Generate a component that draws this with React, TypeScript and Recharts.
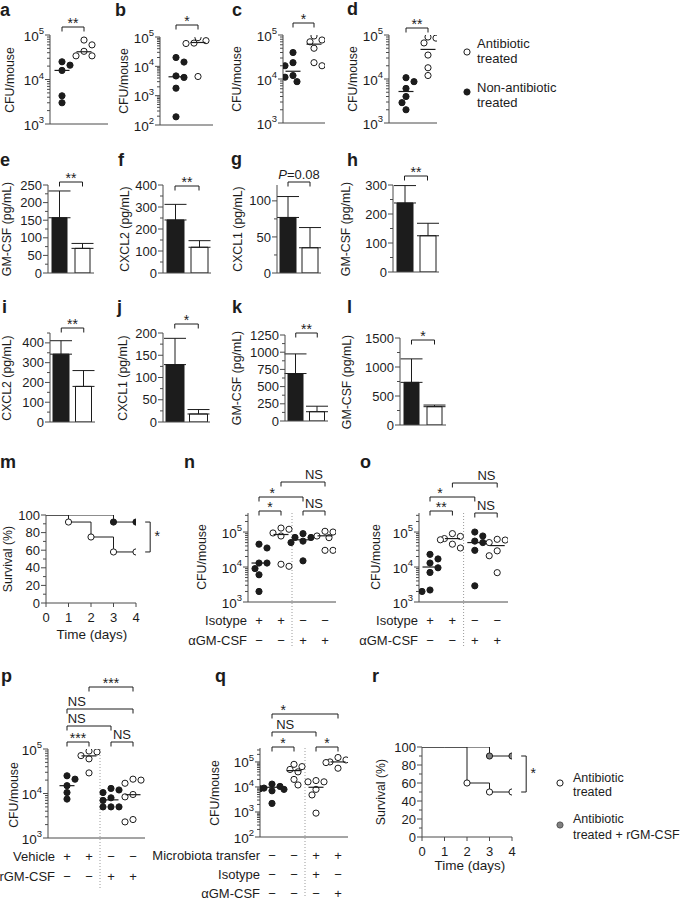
import React from 'react';
import {
  ScatterChart, Scatter, BarChart, Bar, Cell, ErrorBar, LineChart, Line,
  XAxis, YAxis, ReferenceLine,
} from 'recharts';

const FONT = '"Liberation Sans", Arial, Helvetica, sans-serif';
const INK = '#1c1c1c';
const AXIS = '#4a4a4a';

// a–d  CFU/mouse, filled = non-antibiotic treated, open = antibiotic treated
const aNonAbx = [2.5e4, 2.1e4, 1.6e4, 4.3e3, 3e3];
const aAbx = [7.7e4, 6e4, 4.3e4, 3.4e4, 3.4e4];
const aMedian = [1.6e4, 4.2e4];
const bNonAbx = [2e4, 1.4e4, 4.7e3, 4.2e3, 1.8e3, 1.9e2];
const bAbx = [9.5e4, 7.5e4, 6.2e4, 6e4, 4.5e3];
const bMedian = [4.4e3, 6.5e4];
const cNonAbx = [4e4, 2.35e4, 2e4, 1.2e4, 1.1e4, 8.7e3];
const cAbx = [9.5e4, 7.7e4, 7e4, 5e4, 2.35e4, 2e4];
const cMedian = [1.5e4, 6.2e4];
const dNonAbx = [1.07e4, 8.7e3, 6.1e3, 4e3, 2.9e3, 2e3];
const dAbx = [9e4, 8.5e4, 6.6e4, 3.5e4, 1.8e4, 1.2e4];
const dMedian = [5.2e3, 4.7e4];

// e–l  cytokines (pg/mL), mean and upper SD
const barGroups = ['Non-antibiotic treated', 'Antibiotic treated'];
const eMean = [157, 70]; const eErr = [76, 14];
const fMean = [241, 117]; const fErr = [71, 30];
const gMean = [77, 35]; const gErr = [29, 28];
const hMean = [238, 125]; const hErr = [60, 43];
const iMean = [343, 180]; const iErr = [68, 80];
const jMean = [129, 18]; const jErr = [59, 10];
const kMean = [690, 135]; const kErr = [285, 80];
const lMean = [735, 316]; const lErr = [405, 28];

// m, r  survival (%)
const days = [0, 1, 2, 3, 4];
const mNonAbx = [100, 100, 100, 92, 92];
const mAbx = [100, 92, 75, 58, 58];
const rAbxGm = [100, 100, 100, 90, 90];
const rAbx = [100, 100, 60, 50, 50];

// n–q  CFU/mouse per group
const nG1 = [4.5e4, 3.5e4, 1.3e4, 1.3e4, 9e3, 6e3, 2e3];
const nG2 = [1.3e5, 1.2e5, 9.4e4, 7.7e4, 1.2e4, 1.05e4];
const nG3 = [9e4, 7e4, 7e4, 5.5e4, 5e4, 1.5e4];
const nG4 = [1.05e5, 1e5, 7.7e4, 6.9e4, 3e4, 3e4];
const nMedian = [1.3e4, 8.5e4, 6e4, 7.8e4];
const oG1 = [2.3e4, 1.7e4, 1.3e4, 9.5e3, 7e3, 2.2e3, 2e3];
const oG2 = [9e4, 7.5e4, 6.5e4, 6e4, 4.5e4, 3.5e4];
const oG3 = [1e5, 7.7e4, 5.5e4, 5e4, 3e4, 2.9e3];
const oG4 = [6.2e4, 5.9e4, 5e4, 2.9e4, 2.1e4, 6.9e3];
const oMedian = [1e4, 6.5e4, 5e4, 4.1e4];
const pG1 = [2.5e4, 2.1e4, 1.5e4, 1.05e4, 7.5e3];
const pG2 = [9e4, 8.6e4, 7.1e4, 6e4, 2.9e4];
const pG3 = [1.3e4, 1.2e4, 1.05e4, 8e3, 7e3, 5e3, 5e3, 5e3];
const pG4 = [2.1e4, 2e4, 1.7e4, 9.5e3, 8.4e3, 2.6e3, 2.3e3];
const pMedian = [1.5e4, 7e4, 7.2e3, 9.4e3];
const qG1 = [1.3e4, 1.05e4, 9e3, 8.5e3, 8e3, 7e3, 2.2e3];
const qG2 = [8e4, 6.5e4, 5e4, 4e4, 2e4, 1.2e4];
const qG3 = [1.8e4, 1.6e4, 1.6e4, 8e3, 4.8e3, 9e2];
const qG4 = [1.5e5, 1.2e5, 1e5, 9.4e4, 5.6e4];
const qMedian = [9.7e3, 4.5e4, 9.7e3, 1e5];

// treatment rows under n–q
const isotypeRow = ['+', '+', '−', '−'];
const antiGmRow = ['−', '−', '+', '+'];
const vehicleRow = ['+', '+', '−', '−'];
const rGmRow = ['−', '−', '+', '+'];
const transferRow = ['−', '−', '+', '+'];
const qIsotypeRow = ['−', '−', '+', '−'];
const qAntiGmRow = ['−', '−', '−', '+'];

type Br = { a: number; b: number; y: number; label: string; at?: number };

const labelNode = (label: string) =>
  label.startsWith('P=') ? (<><tspan fontStyle="italic">P</tspan>{label.slice(1)}</>) : label;

const bracketShape = (label: string, at: number) => (p: any) => {
  const { x1, y1, x2 } = p;
  const stars = /^\*+$/.test(label);
  return (
    <g>
      <path d={`M${x1},${y1 + 4.5}V${y1}H${x2}V${y1 + 4.5}`} fill="none" stroke={INK} strokeWidth={1} />
      <text x={x1 + (x2 - x1) * at} y={stars ? y1 + 1 : y1 - 3} textAnchor="middle"
        fontSize={stars ? 14 : 13} fontFamily={FONT} fill={INK}>{labelNode(label)}</text>
    </g>
  );
};

const vBracket = (label: string) => (p: any) => {
  const { x1, y1, y2 } = p;
  return (
    <g>
      <path d={`M${x1 - 5},${y1}H${x1}V${y2}H${x1 - 5}`} fill="none" stroke={INK} strokeWidth={1} />
      <text x={x1 + 7} y={(y1 + y2) / 2 + 4} textAnchor="middle" fontSize={14} fontFamily={FONT} fill={INK}>{label}</text>
    </g>
  );
};

function LogTick(p: any) {
  const { x, y, payload } = p;
  const e = Math.log10(payload.value);
  const major = Math.abs(e - Math.round(e)) < 1e-6;
  return (
    <g>
      <line x1={x} x2={x - (major ? 5 : 3)} y1={y} y2={y} stroke={AXIS} strokeWidth={1} />
      {major && (
        <text x={x - 6} y={y + 5.5} textAnchor="end" fontSize={13.5} fontFamily={FONT} fill={INK}>
          10<tspan fontSize={9.5} dy={-6.5}>{Math.round(e)}</tspan>
        </text>
      )}
    </g>
  );
}

const linTick = (major: number) => (p: any) => {
  const { x, y, payload } = p;
  const v = payload.value;
  const isMajor = Math.abs(v / major - Math.round(v / major)) < 1e-6;
  return (
    <g>
      <line x1={x} x2={x - (isMajor ? 5 : 3)} y1={y} y2={y} stroke={AXIS} strokeWidth={1} />
      {isMajor && (
        <text x={x - 6} y={y + 4.6} textAnchor="end" fontSize={13} fontFamily={FONT} fill={INK}>{v}</text>
      )}
    </g>
  );
};

const dayTick = (p: any) => {
  const { x, y, payload } = p;
  return (
    <g>
      <line x1={x} x2={x} y1={y} y2={y + 4} stroke={AXIS} strokeWidth={1} />
      <text x={x} y={y + 18.5} textAnchor="middle" fontSize={13} fontFamily={FONT} fill={INK}>{payload.value}</text>
    </g>
  );
};

const rowTick = (rows: [string, string[]][], step: number) => (p: any) => {
  const { x, y, index } = p;
  return (
    <g fontFamily={FONT} fill={INK} fontSize={13}>
      {rows.map(([name, signs], r) => {
        const ty = y + 18.3 + r * step + 4.6;
        return (
          <g key={r}>
            <text x={x} y={ty} textAnchor="middle">{signs[index]}</text>
            {index === 0 && <text x={x - 12} y={ty} textAnchor="end">{name}</text>}
          </g>
        );
      })}
    </g>
  );
};

const dotShape = (fill: string) => (p: any) => (
  <circle cx={p.cx} cy={p.cy} r={3.1} fill={fill} stroke={INK} strokeWidth={1} />
);
const medBar = (p: any) => (
  <line x1={p.cx - 7.5} x2={p.cx + 7.5} y1={p.cy} y2={p.cy} stroke={INK} strokeWidth={1.2} />
);

function logTicks([lo, hi]: [number, number]) {
  const out: number[] = [];
  for (let e = Math.floor(Math.log10(lo)); e <= Math.ceil(Math.log10(hi)); e++) {
    for (let m = 1; m < 10; m++) {
      const v = m * Math.pow(10, e);
      if (v >= lo * 0.999 && v <= hi * 1.001) out.push(v);
    }
  }
  return out;
}

// small beeswarm so overlapping dots sit side by side
function spread(vals: number[], g: number, pyOf: (v: number) => number, gap: number) {
  const placed: [number, number][] = [];
  return vals.map((v, i) => {
    const py = pyOf(v);
    const s = i % 2 ? 1 : -1;
    const cands = [0, 4 * s, -4 * s, 8 * s, -8 * s, 12 * s, -12 * s];
    let dx = cands[cands.length - 1];
    for (const c of cands) {
      if (placed.every(([px, qy]) => Math.hypot(px - c, qy - py) >= 6.4)) { dx = c; break; }
    }
    placed.push([dx, py]);
    return { x: g + dx / gap, y: v };
  });
}

type LogCfg = {
  box: [number, number, number, number];
  axisX: number; top: number; bottom: number; right: number;
  domain: [number, number];
  g1: number; gap: number;
  groups: number[][]; medians: number[]; filled: boolean[];
  brackets: Br[];
  rows?: [string, string[]][];
  rowStep?: number;
  divider?: number;
};

function LogPanel({ c }: { c: LogCfg }) {
  const [bl, bt, br, bb] = c.box;
  const lo = Math.log10(c.domain[0]);
  const hi = Math.log10(c.domain[1]);
  const ph = c.bottom - c.top;
  const pyOf = (v: number) => c.bottom - ((Math.log10(v) - lo) / (hi - lo)) * ph;
  const vOf = (py: number) => Math.pow(10, lo + ((c.bottom - py) / ph) * (hi - lo));
  const xlo = 1 - (c.g1 - c.axisX) / c.gap;
  const xhi = 1 + (c.right - c.g1) / c.gap;
  const pts = c.groups.map((vals, i) => spread(vals, i + 1, pyOf, c.gap));
  const filledPts = pts.filter((_, i) => c.filled[i]).flat();
  const openPts = pts.filter((_, i) => !c.filled[i]).flat();
  const medPts = c.medians.map((m, i) => ({ x: i + 1, y: m }));
  return (
    <div style={{ position: 'absolute', left: bl, top: bt }}>
      <ScatterChart width={br - bl} height={bb - bt}
        margin={{ top: c.top - bt, right: br - c.right, bottom: 0, left: 0 }}>
        <XAxis type="number" dataKey="x" domain={[xlo, xhi]} allowDataOverflow
          ticks={c.groups.map((_, i) => i + 1)} interval={0}
          tick={c.rows ? rowTick(c.rows, c.rowStep ?? 20.5) : false} tickLine={false} tickSize={0} tickMargin={0}
          axisLine={{ stroke: AXIS }} height={bb - c.bottom} />
        <YAxis type="number" dataKey="y" scale="log" domain={c.domain} allowDataOverflow
          ticks={logTicks(c.domain)} interval={0} tick={LogTick} tickLine={false}
          tickSize={0} tickMargin={0} axisLine={{ stroke: AXIS }} width={c.axisX - bl} />
        {c.divider !== undefined && (
          <ReferenceLine segment={[{ x: 2.5, y: c.domain[1] }, { x: 2.5, y: vOf(c.divider) }]}
            ifOverflow="visible" stroke="#9a9a9a" strokeDasharray="1 2" />
        )}
        <Scatter data={filledPts} shape={dotShape(INK)} isAnimationActive={false} />
        <Scatter data={openPts} shape={dotShape('#fff')} isAnimationActive={false} />
        <Scatter data={medPts} shape={medBar} isAnimationActive={false} />
        {c.brackets.map((b, i) => (
          <ReferenceLine key={i} segment={[{ x: b.a, y: vOf(b.y) }, { x: b.b, y: vOf(b.y) }]}
            ifOverflow="visible" shape={bracketShape(b.label, b.at ?? 0.5)} />
        ))}
      </ScatterChart>
    </div>
  );
}

type BarCfg = {
  box: [number, number, number, number];
  axisX: number; top: number; bottom: number; right: number;
  max: number; major: number; minor: number; barSize: number;
  mean: number[]; err: number[]; by: number; label: string;
};

function BarPanel({ c }: { c: BarCfg }) {
  const [bl, bt, br, bb] = c.box;
  const data = barGroups.map((name, i) => ({ name, value: c.mean[i], err: [0, c.err[i]] }));
  const vOf = (py: number) => ((c.bottom - py) / (c.bottom - c.top)) * c.max;
  const ticks: number[] = [];
  for (let v = 0; v <= c.max + 1e-9; v += c.minor) ticks.push(v);
  return (
    <div style={{ position: 'absolute', left: bl, top: bt }}>
      <BarChart width={br - bl} height={bb - bt} data={data}
        margin={{ top: c.top - bt, right: br - c.right, bottom: 0, left: 0 }}>
        <XAxis dataKey="name" type="category" tick={false} tickLine={false}
          axisLine={{ stroke: AXIS }} height={bb - c.bottom} />
        <YAxis type="number" domain={[0, c.max]} allowDataOverflow ticks={ticks} interval={0}
          tick={linTick(c.major)} tickLine={false} tickSize={0} tickMargin={0}
          axisLine={{ stroke: AXIS }} width={c.axisX - bl} />
        <Bar dataKey="value" barSize={c.barSize} isAnimationActive={false} stroke={INK} strokeWidth={1}>
          {data.map((d, i) => <Cell key={d.name} fill={i === 0 ? INK : '#fff'} />)}
          <ErrorBar dataKey="err" width={11} stroke={INK} strokeWidth={1} direction="y" />
        </Bar>
        <ReferenceLine segment={[{ x: barGroups[0], y: vOf(c.by) }, { x: barGroups[1], y: vOf(c.by) }]}
          ifOverflow="visible" shape={bracketShape(c.label, 0.5)} />
      </BarChart>
    </div>
  );
}

type SurvCfg = {
  box: [number, number, number, number];
  axisX: number; top: number; bottom: number; right: number;
  series: { values: number[]; fill: string }[];
};

const kmDot = (vals: number[], fill: string) => (p: any) => {
  const i = p.index;
  const show = i > 0 && (vals[i] !== vals[i - 1] || i === vals.length - 1);
  if (!show) return <g key={i} />;
  return <circle key={i} cx={p.cx} cy={p.cy} r={3.1} fill={fill} stroke={INK} strokeWidth={1} />;
};

function SurvPanel({ c }: { c: SurvCfg }) {
  const [bl, bt, br, bb] = c.box;
  const data = days.map((d, i) => {
    const row: any = { day: d };
    c.series.forEach((s, k) => { row['s' + k] = s.values[i]; });
    return row;
  });
  const hiEnd = c.series[0].values[c.series[0].values.length - 1];
  const loEnd = c.series[1].values[c.series[1].values.length - 1];
  const yTicks = [0, 10, 20, 30, 40, 50, 60, 70, 80, 90, 100];
  return (
    <div style={{ position: 'absolute', left: bl, top: bt }}>
      <LineChart width={br - bl} height={bb - bt} data={data}
        margin={{ top: c.top - bt, right: br - c.right, bottom: 0, left: 0 }}>
        <XAxis type="number" dataKey="day" domain={[0, 4]} allowDataOverflow ticks={days} interval={0}
          tick={dayTick} tickLine={false} tickSize={0} tickMargin={0}
          axisLine={{ stroke: AXIS }} height={bb - c.bottom} />
        <YAxis type="number" domain={[0, 100]} allowDataOverflow ticks={yTicks} interval={0}
          tick={linTick(20)} tickLine={false} tickSize={0} tickMargin={0}
          axisLine={{ stroke: AXIS }} width={c.axisX - bl} />
        {c.series.map((s, k) => (
          <Line key={k} dataKey={'s' + k} type="stepAfter" stroke={INK} strokeWidth={1}
            dot={kmDot(s.values, s.fill)} activeDot={false} isAnimationActive={false} />
        ))}
        <ReferenceLine segment={[{ x: 4.63, y: hiEnd }, { x: 4.63, y: loEnd }]}
          ifOverflow="visible" shape={vBracket('*')} />
      </LineChart>
    </div>
  );
}

const logPanels: LogCfg[] = [
  { box: [0, 0, 112, 135], axisX: 50, top: 35, bottom: 124, right: 108, domain: [1e3, 1e5],
    g1: 62, gap: 22, groups: [aNonAbx, aAbx], medians: aMedian, filled: [true, false],
    brackets: [{ a: 1, b: 2, y: 27, label: '**' }] },
  { box: [112, 0, 228, 135], axisX: 160, top: 37, bottom: 125, right: 213, domain: [1e2, 1e5],
    g1: 176, gap: 22, groups: [bNonAbx, bAbx], medians: bMedian, filled: [true, false],
    brackets: [{ a: 1, b: 2, y: 25, label: '*' }] },
  { box: [228, 0, 340, 135], axisX: 283, top: 35, bottom: 123, right: 325, domain: [1e3, 1e5],
    g1: 293, gap: 21, groups: [cNonAbx, cAbx], medians: cMedian, filled: [true, false],
    brackets: [{ a: 1, b: 2, y: 23, label: '*' }] },
  { box: [340, 0, 450, 135], axisX: 389, top: 35, bottom: 123, right: 437, domain: [1e3, 1e5],
    g1: 406, gap: 22, groups: [dNonAbx, dAbx], medians: dMedian, filled: [true, false],
    brackets: [{ a: 1, b: 2, y: 28, label: '**' }] },
  { box: [185, 460, 365, 660], axisX: 248, top: 513, bottom: 602, right: 336, domain: [1e3, 3.5e5],
    g1: 259, gap: 22, groups: [nG1, nG2, nG3, nG4], medians: nMedian, filled: [true, false, true, false],
    rows: [['Isotype', isotypeRow], ['αGM-CSF', antiGmRow]], divider: 648,
    brackets: [
      { a: 1, b: 2, y: 511, label: '*' }, { a: 3, b: 4, y: 511, label: 'NS' },
      { a: 1, b: 3, y: 497, label: '*', at: 0.3 }, { a: 2, b: 4, y: 482, label: 'NS', at: 0.75 },
    ] },
  { box: [345, 460, 520, 660], axisX: 419, top: 513, bottom: 602, right: 508, domain: [1e3, 3.5e5],
    g1: 430, gap: 22.4, groups: [oG1, oG2, oG3, oG4], medians: oMedian, filled: [true, false, true, false],
    rows: [['Isotype', isotypeRow], ['αGM-CSF', antiGmRow]], divider: 648,
    brackets: [
      { a: 1, b: 2, y: 511, label: '**' }, { a: 3, b: 4, y: 513, label: 'NS' },
      { a: 1, b: 3, y: 497, label: '*', at: 0.22 }, { a: 2, b: 4, y: 483, label: 'NS', at: 0.76 },
    ] },
  { box: [0, 672, 185, 901], axisX: 48, top: 749, bottom: 838, right: 145, domain: [1e3, 1e5],
    g1: 67, gap: 22, groups: [pG1, pG2, pG3, pG4], medians: pMedian, filled: [true, false, true, false],
    rows: [['Vehicle', vehicleRow], ['rGM-CSF', rGmRow]], divider: 890,
    brackets: [
      { a: 1, b: 2, y: 742, label: '***' }, { a: 3, b: 4, y: 742, label: 'NS' },
      { a: 1, b: 3, y: 726, label: 'NS', at: 0.22 }, { a: 1, b: 4, y: 709, label: 'NS', at: 0.15 },
      { a: 2, b: 4, y: 687, label: '***' },
    ] },
  { box: [140, 672, 365, 901], axisX: 260, top: 748, bottom: 837, right: 348, domain: [1e2, 3.6e5],
    g1: 272, gap: 22, groups: [qG1, qG2, qG3, qG4], medians: qMedian, filled: [true, false, false, false],
    rows: [['Microbiota transfer', transferRow], ['Isotype', qIsotypeRow], ['αGM-CSF', qAntiGmRow]],
    rowStep: 19, divider: 897,
    brackets: [
      { a: 1, b: 2, y: 747, label: '*' }, { a: 3, b: 4, y: 747, label: '*' },
      { a: 1, b: 3, y: 732, label: 'NS', at: 0.3 }, { a: 1, b: 4, y: 714, label: '*', at: 0.17 },
    ] },
];

const barPanels: BarCfg[] = [
  { box: [0, 140, 112, 285], axisX: 48, top: 185, bottom: 273, right: 94, max: 250, major: 50, minor: 25,
    barSize: 15, mean: eMean, err: eErr, by: 182, label: '**' },
  { box: [112, 140, 228, 285], axisX: 163, top: 185, bottom: 273, right: 211, max: 400, major: 100, minor: 50,
    barSize: 17, mean: fMean, err: fErr, by: 186, label: '**' },
  { box: [228, 140, 340, 285], axisX: 277, top: 185, bottom: 273, right: 321, max: 122, major: 50, minor: 25,
    barSize: 16, mean: gMean, err: gErr, by: 182, label: 'P=0.08' },
  { box: [340, 140, 460, 285], axisX: 393, top: 185, bottom: 272, right: 439, max: 300, major: 100, minor: 50,
    barSize: 16, mean: hMean, err: hErr, by: 176, label: '**' },
  { box: [0, 290, 112, 435], axisX: 50, top: 333, bottom: 422, right: 95, max: 450, major: 100, minor: 50,
    barSize: 16, mean: iMean, err: iErr, by: 328, label: '**' },
  { box: [112, 290, 228, 435], axisX: 163, top: 333, bottom: 422, right: 210, max: 200, major: 50, minor: 25,
    barSize: 18, mean: jMean, err: jErr, by: 324, label: '*' },
  { box: [228, 290, 340, 435], axisX: 285, top: 335, bottom: 421, right: 328, max: 1250, major: 250, minor: 125,
    barSize: 15, mean: kMean, err: kErr, by: 333, label: '**' },
  { box: [340, 290, 460, 435], axisX: 400, top: 338, bottom: 425, right: 446, max: 1500, major: 500, minor: 250,
    barSize: 15, mean: lMean, err: lErr, by: 340, label: '*' },
];

const survPanels: SurvCfg[] = [
  { box: [0, 500, 185, 650], axisX: 46, top: 515, bottom: 603, right: 136,
    series: [{ values: mNonAbx, fill: INK }, { values: mAbx, fill: '#fff' }] },
  { box: [365, 735, 545, 880], axisX: 422, top: 747, bottom: 837, right: 512,
    series: [{ values: rAbxGm, fill: '#808080' }, { values: rAbx, fill: '#fff' }] },
];

const letters: [string, number, number][] = [
  ['a', 0, 16], ['b', 115, 16], ['c', 232, 16], ['d', 347, 15],
  ['e', 0, 166], ['f', 118, 166], ['g', 231, 165], ['h', 347, 166],
  ['i', 2, 313], ['j', 117, 313], ['k', 232, 313], ['l', 347, 313],
  ['m', 0, 468], ['n', 184, 468], ['o', 360, 468],
  ['p', 1, 682], ['q', 215, 682], ['r', 372, 682],
];

const yLabels: [string, number, number][] = [
  ['CFU/mouse', 10, 80], ['CFU/mouse', 124, 81], ['CFU/mouse', 237, 79], ['CFU/mouse', 353, 79],
  ['GM-CSF (pg/mL)', 7, 229], ['CXCL2 (pg/mL)', 125, 229], ['CXCL1 (pg/mL)', 238, 229], ['GM-CSF (pg/mL)', 346, 229],
  ['CXCL2 (pg/mL)', 7, 378], ['CXCL1 (pg/mL)', 123, 378], ['GM-CSF (pg/mL)', 237, 378], ['GM-CSF (pg/mL)', 347, 382],
  ['Survival (%)', 8, 559], ['CFU/mouse', 202, 557], ['CFU/mouse', 376, 557],
  ['CFU/mouse', 14, 795], ['CFU/mouse', 215, 793], ['Survival (%)', 381, 792],
];

function Overlay() {
  const t = { fontFamily: FONT, fill: INK } as const;
  return (
    <svg width={685} height={901} style={{ position: 'absolute', left: 0, top: 0, pointerEvents: 'none' }}>
      {letters.map(([s, x, y]) => (
        <text key={s} x={x} y={y} fontSize={18} fontWeight="bold" {...t}>{s}</text>
      ))}
      {yLabels.map(([s, x, y], i) => (
        <text key={i} transform={`translate(${x},${y}) rotate(-90)`} y={4.3} textAnchor="middle" fontSize={12.3} {...t}>{s}</text>
      ))}
      <text x={92} y={639} textAnchor="middle" fontSize={13.5} {...t}>Time (days)</text>
      <text x={470} y={870} textAnchor="middle" fontSize={13.5} {...t}>Time (days)</text>
      <g fontSize={13} {...t}>
        <circle cx={467} cy={52} r={3.1} fill="#fff" stroke={INK} />
        <text x={477} y={48}>Antibiotic</text>
        <text x={477} y={63}>treated</text>
        <circle cx={467} cy={92} r={3.1} fill={INK} stroke={INK} />
        <text x={477} y={92}>Non-antibiotic</text>
        <text x={477} y={107}>treated</text>
      </g>
      <g fontSize={12.5} {...t}>
        <circle cx={560} cy={783} r={3.1} fill="#fff" stroke={INK} />
        <text x={573} y={782}>Antibiotic</text>
        <text x={573} y={796}>treated</text>
        <circle cx={560} cy={825} r={3.1} fill="#808080" stroke="#555" />
        <text x={573} y={823}>Antibiotic</text>
        <text x={573} y={839}>treated + rGM-CSF</text>
      </g>
    </svg>
  );
}

export default function App() {
  return (
    <div style={{ position: 'absolute', left: 0, top: 0, width: 685, height: 901, background: '#fff', fontFamily: FONT, overflow: 'hidden' }}>
      {logPanels.map((c, i) => <LogPanel key={'s' + i} c={c} />)}
      {barPanels.map((c, i) => <BarPanel key={'b' + i} c={c} />)}
      {survPanels.map((c, i) => <SurvPanel key={'k' + i} c={c} />)}
      <Overlay />
    </div>
  );
}
